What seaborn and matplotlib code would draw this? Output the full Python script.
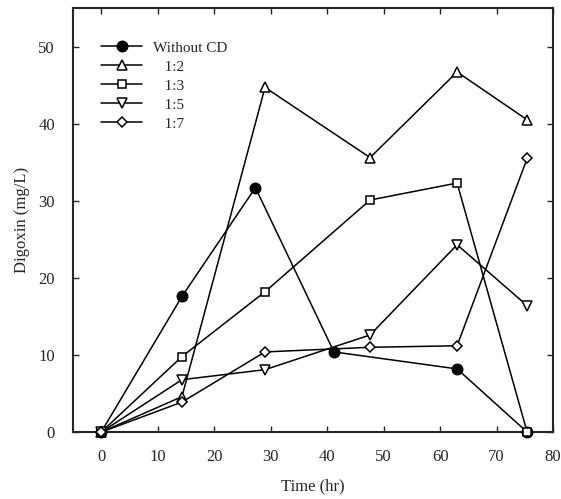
import numpy as np
import pandas as pd
import seaborn as sns
import matplotlib.pyplot as plt

# values
time_without = [0, 14.3, 27.3, 41.2, 63, 75.4]
time_cd = [0, 14.3, 29, 47.6, 63, 75.4]

without_cd = [0, 17.6, 31.7, 10.4, 8.2, 0]
ratio_12 = [0, 4.6, 44.7, 35.6, 46.7, 40.5]
ratio_13 = [0, 9.8, 18.2, 30.1, 32.3, 0]
ratio_15 = [0, 6.8, 8.1, 12.6, 24.3, 16.4]
ratio_17 = [0, 3.9, 10.4, 11.0, 11.2, 35.5]

labels = ['Without CD', '   1:2', '   1:3', '   1:5', '   1:7']
markers = ['o', '^', 's', 'v', 'D']
msizes = [7.5, 7, 6, 7, 5]

sns.set_style('ticks')
plt.rcParams['font.family'] = ['Liberation Serif', 'DejaVu Serif']
plt.rcParams['xtick.direction'] = 'in'
plt.rcParams['ytick.direction'] = 'in'

fig = plt.figure(figsize=(5.61, 4.99), dpi=100)
ax = fig.add_axes([0.130, 0.134, 0.856, 0.850])

series = [(time_without, without_cd), (time_cd, ratio_12), (time_cd, ratio_13),
          (time_cd, ratio_15), (time_cd, ratio_17)]
for i, (t, v) in enumerate(series):
    df = pd.DataFrame({'Time': t, 'Digoxin': v})
    face = 'black' if i == 0 else 'white'
    sns.lineplot(data=df, x='Time', y='Digoxin', ax=ax, color='black', lw=1.1,
                 marker=markers[i], markersize=msizes[i], markerfacecolor=face,
                 markeredgecolor='black', markeredgewidth=1.1, label=labels[i],
                 clip_on=False, zorder=3)

ax.set_xlim(-5, 80)
ax.set_ylim(0, 55)
ax.set_xticks(np.arange(0, 81, 10))
ax.set_yticks(np.arange(0, 51, 10))
ax.tick_params(labelsize=12, length=4, width=1, top=True, right=True)
ax.tick_params(axis='x', pad=12)
ax.tick_params(axis='y', pad=13)
for s in ax.spines.values():
    s.set_linewidth(1.5)
ax.set_xlabel('Time (hr)', fontsize=12, labelpad=10)
ax.set_ylabel('Digoxin (mg/L)', fontsize=12, labelpad=6)

ax.legend(loc='upper left', bbox_to_anchor=(0.03, 0.955), frameon=False,
          fontsize=11, handlelength=2.7, labelspacing=0.35, handletextpad=0.7)

plt.savefig('out.png', dpi=100)
